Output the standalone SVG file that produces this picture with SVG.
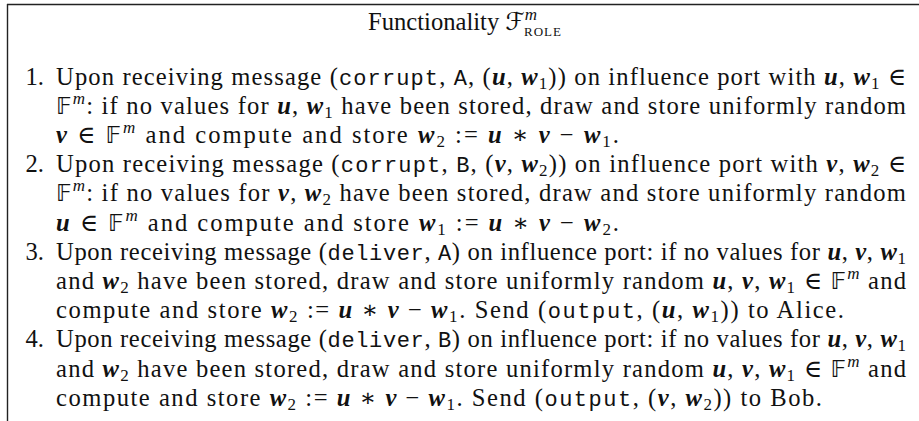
<svg xmlns="http://www.w3.org/2000/svg" width="919" height="421" viewBox="0 0 919 421">
<style>
.r{font-family:"Liberation Serif","DejaVu Serif",serif;font-size:24.6px;fill:#111}
.tt{font-family:"Liberation Mono","DejaVu Sans Mono",monospace;font-size:22px}
.bi{font-weight:bold;font-style:italic}
.sub{font-size:17px;baseline-shift:-4px}
.sup{font-size:17px;font-style:italic;baseline-shift:10px}
.bb{font-family:"DejaVu Sans","DejaVu Serif",sans-serif;font-size:23px}
.cal{font-family:"DejaVu Serif","DejaVu Sans",serif;font-style:italic}
.sc{font-size:13px;baseline-shift:-6px;letter-spacing:1px}
.frame{stroke:#222;stroke-width:1.4;fill:none}
</style>
<rect width="919" height="421" fill="#fff"/>
<g id="frame">
<line class="frame" x1="7" y1="4.5" x2="919" y2="4.5"/>
<line class="frame" x1="7.5" y1="4" x2="7.5" y2="421"/>
</g>
<g id="title">
<text class="r" x="465" y="30" text-anchor="middle">Functionality <tspan class="cal">ℱ</tspan><tspan class="sup">m</tspan><tspan class="sc" dx="-13">ROLE</tspan></text>
</g>
<g id="item1">
<text class="r" x="44" y="84.5" text-anchor="end">1.</text>
<text class="r" x="56" y="84.5" textLength="850" lengthAdjust="spacing">Upon receiving message (<tspan class="tt">corrupt</tspan>, <tspan class="tt">A</tspan>, (<tspan class="bi">u</tspan>, <tspan class="bi">w</tspan><tspan class="sub">1</tspan>)) on influence port with <tspan class="bi">u</tspan>, <tspan class="bi">w</tspan><tspan class="sub">1</tspan> ∈</text>
<text class="r" x="56" y="113.7" textLength="850" lengthAdjust="spacing"><tspan class="bb">𝔽</tspan><tspan class="sup">m</tspan>: if no values for <tspan class="bi">u</tspan>, <tspan class="bi">w</tspan><tspan class="sub">1</tspan> have been stored, draw and store uniformly random</text>
<text class="r" x="56" y="142.9" textLength="563" lengthAdjust="spacing"><tspan class="bi">v</tspan> ∈ <tspan class="bb">𝔽</tspan><tspan class="sup">m</tspan> and compute and store <tspan class="bi">w</tspan><tspan class="sub">2</tspan> := <tspan class="bi">u</tspan> ∗ <tspan class="bi">v</tspan> − <tspan class="bi">w</tspan><tspan class="sub">1</tspan>.</text>
</g>
<g id="item2">
<text class="r" x="44" y="172.1" text-anchor="end">2.</text>
<text class="r" x="56" y="172.1" textLength="850" lengthAdjust="spacing">Upon receiving message (<tspan class="tt">corrupt</tspan>, <tspan class="tt">B</tspan>, (<tspan class="bi">v</tspan>, <tspan class="bi">w</tspan><tspan class="sub">2</tspan>)) on influence port with <tspan class="bi">v</tspan>, <tspan class="bi">w</tspan><tspan class="sub">2</tspan> ∈</text>
<text class="r" x="56" y="201.3" textLength="850" lengthAdjust="spacing"><tspan class="bb">𝔽</tspan><tspan class="sup">m</tspan>: if no values for <tspan class="bi">v</tspan>, <tspan class="bi">w</tspan><tspan class="sub">2</tspan> have been stored, draw and store uniformly random</text>
<text class="r" x="56" y="230.5" textLength="563" lengthAdjust="spacing"><tspan class="bi">u</tspan> ∈ <tspan class="bb">𝔽</tspan><tspan class="sup">m</tspan> and compute and store <tspan class="bi">w</tspan><tspan class="sub">1</tspan> := <tspan class="bi">u</tspan> ∗ <tspan class="bi">v</tspan> − <tspan class="bi">w</tspan><tspan class="sub">2</tspan>.</text>
</g>
<g id="item3">
<text class="r" x="44" y="259.7" text-anchor="end">3.</text>
<text class="r" x="56" y="259.7" textLength="850" lengthAdjust="spacing">Upon receiving message (<tspan class="tt">deliver</tspan>, <tspan class="tt">A</tspan>) on influence port: if no values for <tspan class="bi">u</tspan>, <tspan class="bi">v</tspan>, <tspan class="bi">w</tspan><tspan class="sub">1</tspan></text>
<text class="r" x="56" y="288.9" textLength="850" lengthAdjust="spacing">and <tspan class="bi">w</tspan><tspan class="sub">2</tspan> have been stored, draw and store uniformly random <tspan class="bi">u</tspan>, <tspan class="bi">v</tspan>, <tspan class="bi">w</tspan><tspan class="sub">1</tspan> ∈ <tspan class="bb">𝔽</tspan><tspan class="sup">m</tspan> and</text>
<text class="r" x="56" y="318.1" textLength="788" lengthAdjust="spacing">compute and store <tspan class="bi">w</tspan><tspan class="sub">2</tspan> := <tspan class="bi">u</tspan> ∗ <tspan class="bi">v</tspan> − <tspan class="bi">w</tspan><tspan class="sub">1</tspan>. Send (<tspan class="tt">output</tspan>, (<tspan class="bi">u</tspan>, <tspan class="bi">w</tspan><tspan class="sub">1</tspan>)) to Alice.</text>
</g>
<g id="item4">
<text class="r" x="44" y="347.3" text-anchor="end">4.</text>
<text class="r" x="56" y="347.3" textLength="850" lengthAdjust="spacing">Upon receiving message (<tspan class="tt">deliver</tspan>, <tspan class="tt">B</tspan>) on influence port: if no values for <tspan class="bi">u</tspan>, <tspan class="bi">v</tspan>, <tspan class="bi">w</tspan><tspan class="sub">1</tspan></text>
<text class="r" x="56" y="376.5" textLength="850" lengthAdjust="spacing">and <tspan class="bi">w</tspan><tspan class="sub">2</tspan> have been stored, draw and store uniformly random <tspan class="bi">u</tspan>, <tspan class="bi">v</tspan>, <tspan class="bi">w</tspan><tspan class="sub">1</tspan> ∈ <tspan class="bb">𝔽</tspan><tspan class="sup">m</tspan> and</text>
<text class="r" x="56" y="405.7" textLength="766" lengthAdjust="spacing">compute and store <tspan class="bi">w</tspan><tspan class="sub">2</tspan> := <tspan class="bi">u</tspan> ∗ <tspan class="bi">v</tspan> − <tspan class="bi">w</tspan><tspan class="sub">1</tspan>. Send (<tspan class="tt">output</tspan>, (<tspan class="bi">v</tspan>, <tspan class="bi">w</tspan><tspan class="sub">2</tspan>)) to Bob.</text>
</g>
</svg>
